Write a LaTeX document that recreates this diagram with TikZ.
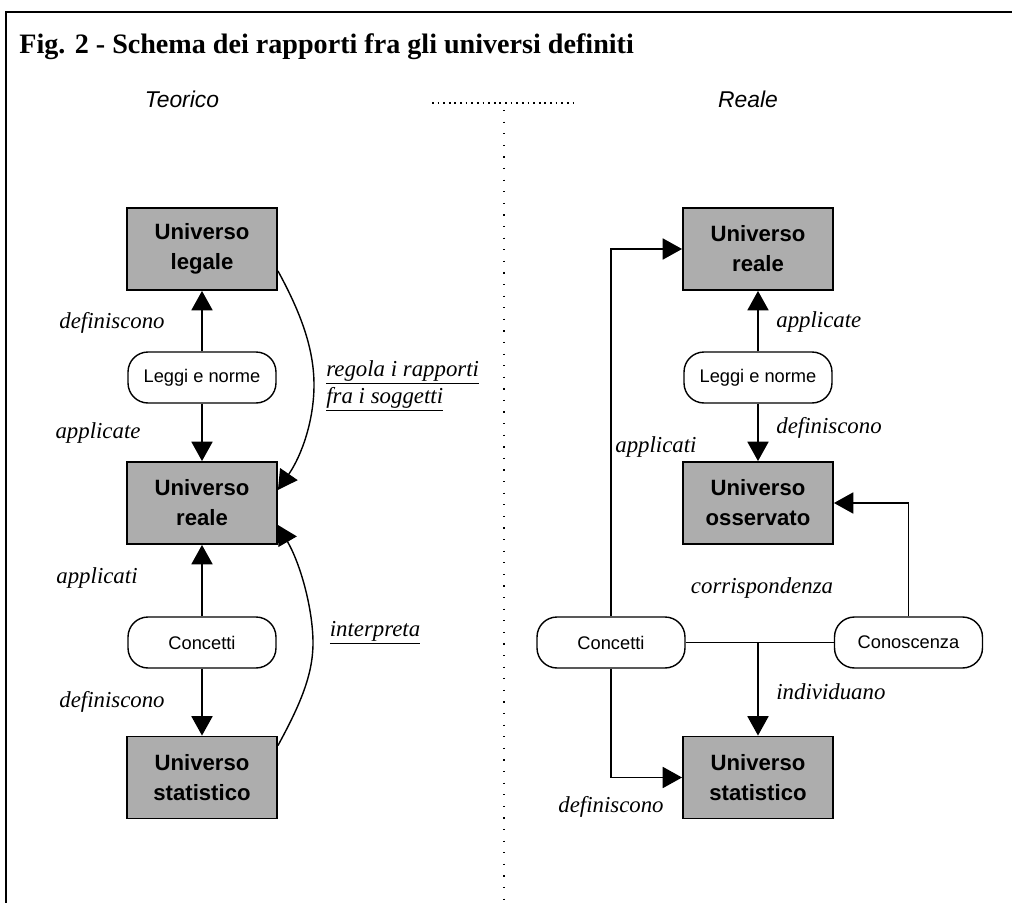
\documentclass[tikz,border=0pt]{standalone}
\usepackage{fontspec}
\setmainfont{Liberation Serif}
\setsansfont{Liberation Sans}
\usetikzlibrary{arrows.meta,calc}

\tikzset{
  universo/.style={draw, line width=1.1pt, fill=black!32, align=center,
    minimum width=3cm, minimum height=1.64cm,
    font=\sffamily\bfseries\fontsize{12.6}{17}\selectfont},
  fonte/.style={draw, line width=0.8pt, rounded corners=0.4cm, align=center,
    minimum width=2.96cm, minimum height=1.02cm,
    font=\sffamily\fontsize{10.4}{12}\selectfont},
  freccia/.style={line width=0.8pt, -{Triangle[length=11pt,width=12pt]}},
  etichetta/.style={inner sep=0pt, font=\itshape\fontsize{13}{15.5}\selectfont},
}

\begin{document}
\begin{tikzpicture}[x=0.02cm, y=-0.02cm]
\useasboundingbox (0,0) rectangle (1012,903);

% cornice e titolo
\draw[line width=1.6pt] (6,903) -- (6,12) -- (1012,12);
\node[anchor=west, inner sep=0pt, font=\bfseries\fontsize{16}{18}\selectfont] (titolo) at (19,47) {Fig. 2 - Schema dei rapporti fra gli universi definiti};
\node[inner sep=0pt, font=\sffamily\itshape\fontsize{13}{15}\selectfont] (teorico) at (182,99) {Teorico};
\node[inner sep=0pt, font=\sffamily\itshape\fontsize{13}{15}\selectfont] (reale) at (748,99) {Reale};
\draw[line width=1.1pt, dash pattern=on 1pt off 2.2pt] (432,103) -- (578,103);
\draw[line width=0.7pt, dash pattern=on 0.7pt off 5.9pt] (504,110) -- (504,900);

% lato teorico
\node[universo] (legale) at (202,249) {Universo\\legale};
\node[fonte] (leggiT) at (202,377.5) {Leggi e norme};
\node[universo] (realeT) at (202,503) {Universo\\reale};
\node[fonte] (concettiT) at (202,642.5) {Concetti};
\node[universo] (statT) at (202,777.5) {Universo\\statistico};

\draw[freccia] (leggiT) -- (legale);
\draw[freccia] (leggiT) -- (realeT);
\draw[freccia] (concettiT) -- (realeT);
\draw[freccia] (concettiT) -- (statT);
\draw[freccia] ($(legale.south east)+(0,-20)$) .. controls (302,315) and (314,350) .. (314,385) .. controls (314,420) and (302,455) .. ($(realeT.east)+(0,-13)$);
\draw[freccia] ($(statT.north east)+(0,10)$) .. controls (300,705) and (313,675) .. (313,643) .. controls (313,610) and (301,565) .. ($(realeT.east)+(0,22)$);

\node[etichetta] (defT) at (112,323) {definiscono};
\node[etichetta] (applT) at (98,433) {applicate};
\node[etichetta] (applcT) at (97,578) {applicati};
\node[etichetta] (defT2) at (112,702) {definiscono};
\node[etichetta, anchor=west, align=left] (regola) at (326,386) {\underline{regola i rapporti}\\\underline{fra i soggetti}};
\node[etichetta] (interpreta) at (375,633) {\underline{interpreta}};

% lato reale
\node[universo] (realeR) at (758,249) {Universo\\reale};
\node[fonte] (leggiR) at (758,377.5) {Leggi e norme};
\node[universo] (osservato) at (758,503) {Universo\\osservato};
\node[fonte] (concettiR) at (611,642.5) {Concetti};
\node[fonte] (conoscenza) at (908.5,642.5) {Conoscenza};
\node[universo] (statR) at (758,777.5) {Universo\\statistico};
\coordinate (incrocio) at (statR.north |- concettiR.east);

\draw[freccia] (leggiR) -- (realeR);
\draw[freccia] (leggiR) -- (osservato);
\draw[freccia] (concettiR.north) |- (realeR.west);
\draw[freccia] (conoscenza.north) |- (osservato.east);
\draw[line width=0.8pt] (concettiR.east) -- (conoscenza.west);
\draw[freccia] (incrocio) -- (statR.north);
\draw[freccia] (concettiR.south) |- (statR.west);

\node[etichetta, anchor=west] (applR) at (776,322) {applicate};
\node[etichetta, anchor=west] (defR) at (776,428) {definiscono};
\node[etichetta, anchor=west] (applcR) at (615,447) {applicati};
\node[etichetta] (corrisp) at (762,588) {corrispondenza};
\node[etichetta, anchor=west] (individuano) at (776,692) {individuano};
\node[etichetta] (defR2) at (611,807) {definiscono};
\end{tikzpicture}
\end{document}
